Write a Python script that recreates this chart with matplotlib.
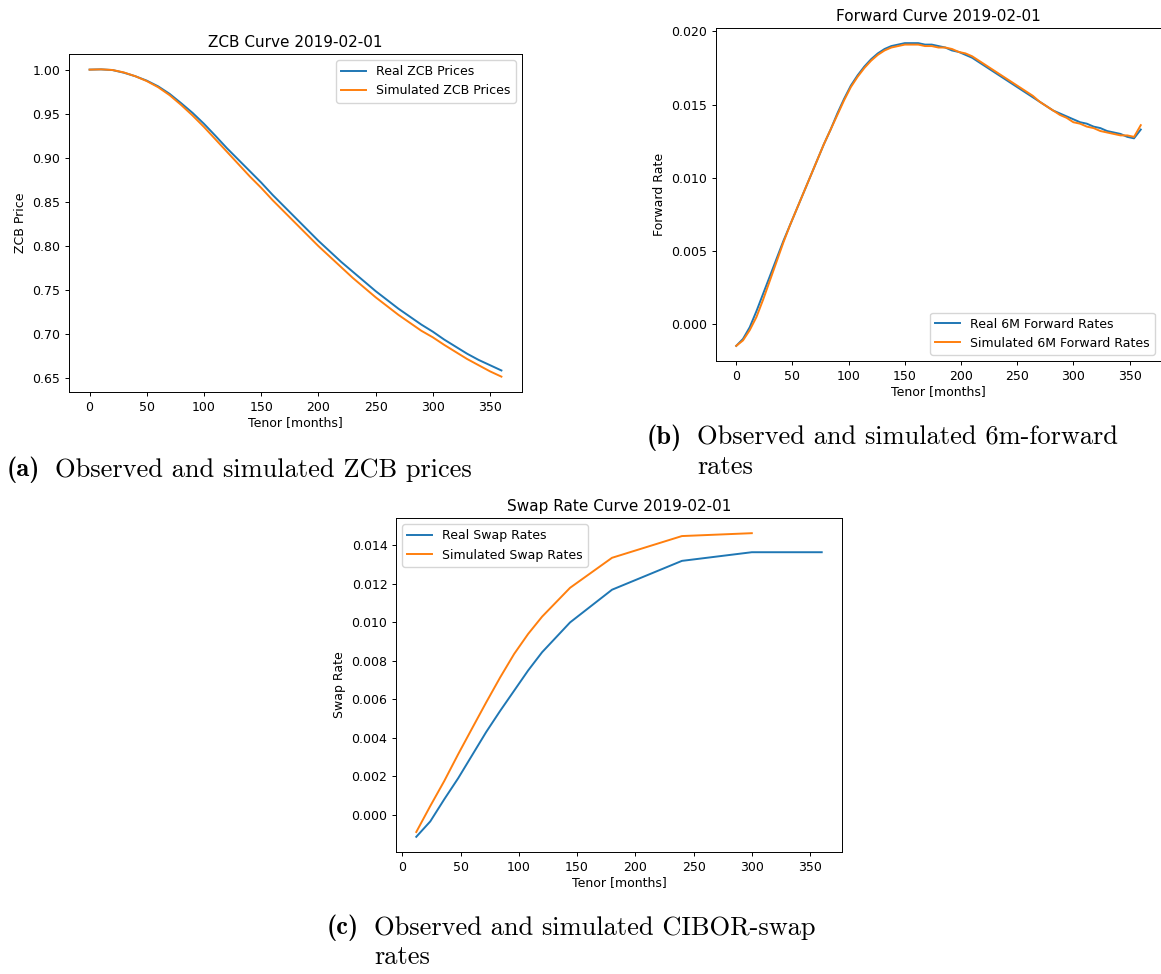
import matplotlib
matplotlib.use("Agg")
import matplotlib.pyplot as plt

# ---------------- data ----------------
zcb_tenor = list(range(0, 361, 10))
zcb_real = [1.000, 1.0003, 0.9995, 0.9965, 0.9925, 0.9875, 0.981, 0.9725, 0.962, 0.951,
            0.9386, 0.925, 0.911, 0.898, 0.885, 0.872, 0.858, 0.845, 0.832, 0.819,
            0.806, 0.794, 0.782, 0.771, 0.760, 0.749, 0.739, 0.729, 0.720, 0.711,
            0.703, 0.694, 0.686, 0.678, 0.671, 0.665, 0.659]
zcb_sim = [1.000, 1.0003, 0.9996, 0.9968, 0.9925, 0.987, 0.980, 0.971, 0.960, 0.948,
           0.935, 0.921, 0.907, 0.893, 0.879, 0.866, 0.852, 0.839, 0.826, 0.813,
           0.800, 0.788, 0.776, 0.764, 0.753, 0.742, 0.732, 0.722, 0.713, 0.704,
           0.6966, 0.688, 0.680, 0.672, 0.665, 0.658, 0.652]

fwd_tenor = list(range(0, 361, 6))
fwd_real = [-0.00147, -0.0010, -0.0002, 0.0009, 0.0021, 0.0033, 0.0045, 0.0057, 0.0068, 0.0079,
            0.0090, 0.0101, 0.0112, 0.0123, 0.0133, 0.0144, 0.0154, 0.0163, 0.0170, 0.0176,
            0.0181, 0.0185, 0.0188, 0.0190, 0.0191, 0.0192, 0.0192, 0.0192, 0.0191, 0.0191,
            0.0190, 0.0189, 0.0187, 0.0186, 0.0184, 0.0182, 0.0179, 0.0176, 0.0173, 0.0170,
            0.0167, 0.0164, 0.0161, 0.0158, 0.0155, 0.0152, 0.0149, 0.0146, 0.0144, 0.0142,
            0.0140, 0.0138, 0.0137, 0.0135, 0.0134, 0.0132, 0.0131, 0.0130, 0.0128, 0.0127,
            0.0133]
fwd_sim = [-0.00147, -0.0011, -0.0004, 0.0005, 0.0017, 0.0030, 0.0043, 0.0056, 0.0068, 0.0079,
           0.0090, 0.0101, 0.0112, 0.0123, 0.0133, 0.0143, 0.0153, 0.0162, 0.0169, 0.0175,
           0.0180, 0.0184, 0.0187, 0.0189, 0.0190, 0.0191, 0.0191, 0.0191, 0.0190, 0.0190,
           0.0189, 0.0189, 0.0188, 0.0186, 0.0185, 0.0183, 0.0180, 0.0177, 0.0174, 0.0171,
           0.0168, 0.0165, 0.0162, 0.0159, 0.0156, 0.0152, 0.0149, 0.0146, 0.0143, 0.0141,
           0.0138, 0.0137, 0.0135, 0.0134, 0.0132, 0.0131, 0.0130, 0.0129, 0.0129, 0.0128,
           0.0136]

swap_tenor_real = [12, 24, 36, 48, 60, 72, 84, 96, 108, 120, 144, 180, 240, 300, 360]
swap_real = [-0.00115, -0.00035, 0.0008, 0.0019, 0.0031, 0.0043, 0.0054, 0.00645, 0.0075,
             0.00845, 0.0100, 0.0117, 0.0132, 0.01365, 0.01365]
swap_tenor_sim = [12, 24, 36, 48, 60, 72, 84, 96, 108, 120, 144, 180, 240, 300]
swap_sim = [-0.0009, 0.00045, 0.00175, 0.00315, 0.0045, 0.00584, 0.00714, 0.00836, 0.0094,
            0.0103, 0.0118, 0.01336, 0.01449, 0.01464]

titles = ["ZCB Curve 2019-02-01", "Forward Curve 2019-02-01", "Swap Rate Curve 2019-02-01"]
ylabels = ["ZCB Price", "Forward Rate", "Swap Rate"]
xlabel = "Tenor [months]"

# ---------------- figure ----------------
W, H = 1161, 974
fig = plt.figure(figsize=(W / 100, H / 100), dpi=100)

def box(l, t, r, b):
    return [l / W, 1 - b / H, (r - l) / W, (b - t) / H]

fs_tick = 9
fs_title = 11
lw = 1.4

axa = fig.add_axes(box(69, 54, 522, 392))
axb = fig.add_axes(box(716, 28, 1161, 361))
axc = fig.add_axes(box(396, 518, 842, 852))

axa.plot(zcb_tenor, zcb_real, color="#1f77b4", lw=lw, label="Real ZCB Prices")
axa.plot(zcb_tenor, zcb_sim, color="#ff7f0e", lw=lw, label="Simulated ZCB Prices")
axa.legend(loc="upper right", fontsize=fs_tick)

axb.plot(fwd_tenor, fwd_real, color="#1f77b4", lw=lw, label="Real 6M Forward Rates")
axb.plot(fwd_tenor, fwd_sim, color="#ff7f0e", lw=lw, label="Simulated 6M Forward Rates")
axb.legend(loc="lower right", fontsize=fs_tick)
axb.set_yticks([0.0, 0.005, 0.010, 0.015, 0.020])
axb.set_yticklabels(["0.000", "0.005", "0.010", "0.015", "0.020"])

axc.plot(swap_tenor_real, swap_real, color="#1f77b4", lw=lw, label="Real Swap Rates")
axc.plot(swap_tenor_sim, swap_sim, color="#ff7f0e", lw=lw, label="Simulated Swap Rates")
axc.legend(loc="upper left", fontsize=fs_tick)
axc.set_xlim(-5.4, 377.4)
axc.set_yticks([0.0, 0.002, 0.004, 0.006, 0.008, 0.010, 0.012, 0.014])
axc.set_yticklabels(["0.000", "0.002", "0.004", "0.006", "0.008", "0.010", "0.012", "0.014"])

for ax, t, yl in zip([axa, axb, axc], titles, ylabels):
    ax.set_title(t, fontsize=fs_title, pad=5)
    ax.set_ylabel(yl, fontsize=fs_tick)
    ax.set_xlabel(xlabel, fontsize=fs_tick, labelpad=2)
    ax.tick_params(labelsize=fs_tick, length=3.2, width=0.7, pad=3)
    for s in ax.spines.values():
        s.set_linewidth(0.7)
    ax.set_xticks([0, 50, 100, 150, 200, 250, 300, 350])

axa.set_xlim(-18, 378)

# ---------------- captions ----------------
cfs = 19
serif = ["cmr10", "DejaVu Serif"]
bold = ["cmb10", "DejaVu Serif"]

def caption(xl, xt, y, tag, lines):
    fig.text(xl / W, 1 - y / H, tag, family=bold, fontsize=cfs, va="center", ha="left")
    for i, ln in enumerate(lines):
        fig.text(xt / W, 1 - (y + 29 * i) / H, ln, family=serif, fontsize=cfs,
                 va="center", ha="left")

caption(7, 55, 470, "(a)", ["Observed and simulated ZCB prices"])
caption(647, 697, 438, "(b)", ["Observed and simulated 6m-forward", "rates"])
caption(327, 374, 928, "(c)", ["Observed and simulated CIBOR-swap", "rates"])

fig.savefig("out.png", dpi=100)
